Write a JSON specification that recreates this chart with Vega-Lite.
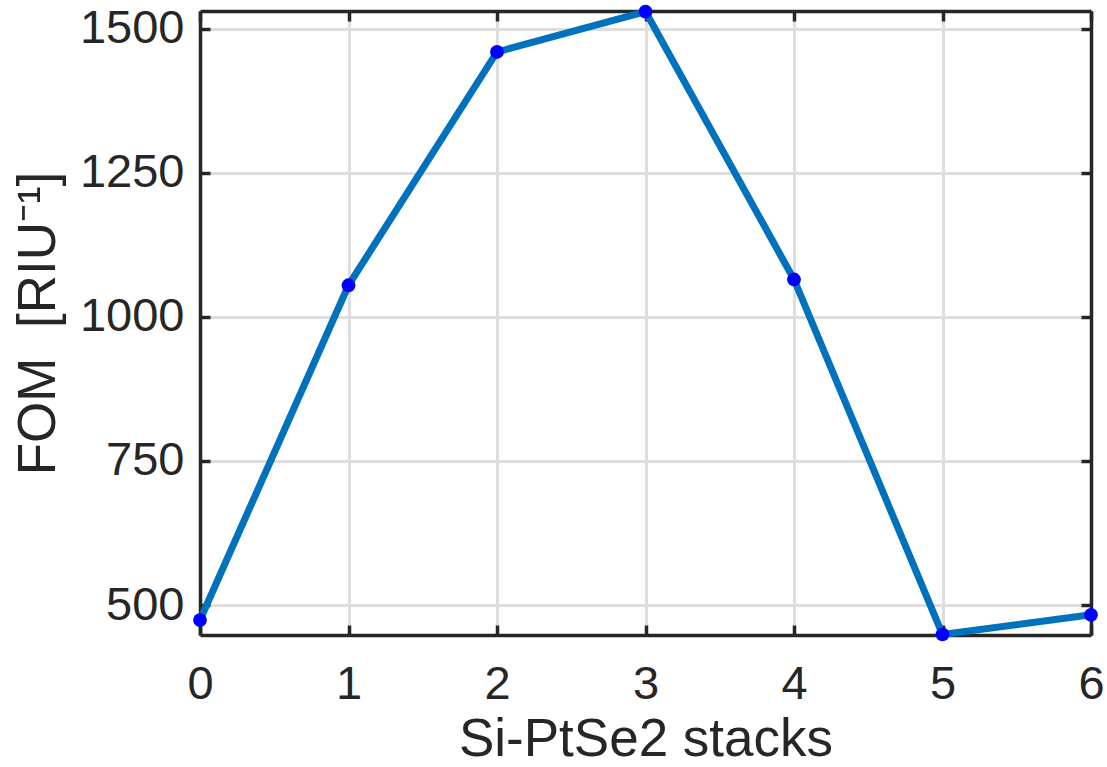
{
  "$schema": "https://vega.github.io/schema/vega-lite/v6.json",
  "width": 891,
  "height": 624,
  "autosize": {"type": "none"},
  "padding": {"left": 200, "top": 11, "right": 16, "bottom": 132},
  "background": "white",
  "config": {
    "view": {"stroke": null},
    "font": "Liberation Sans",
    "axis": {
      "domainColor": "#262626",
      "domainWidth": 3.5,
      "tickColor": "#262626",
      "tickWidth": 3.5,
      "tickSize": -10,
      "labelColor": "#262626",
      "labelFont": "Liberation Sans",
      "labelFontSize": 47,
      "labelFlush": false,
      "titleColor": "#262626",
      "titleFont": "Liberation Sans",
      "titleFontSize": 53,
      "titleFontWeight": "normal",
      "gridColor": "#dedede",
      "gridWidth": 3
    }
  },
  "data": {
    "values": [
      {"stacks": 0, "FOM": 474},
      {"stacks": 1, "FOM": 1055},
      {"stacks": 2, "FOM": 1460},
      {"stacks": 3, "FOM": 1530},
      {"stacks": 4, "FOM": 1065},
      {"stacks": 5, "FOM": 449},
      {"stacks": 6, "FOM": 483}
    ]
  },
  "resolve": {"axis": {"x": "independent", "y": "independent"}},
  "layer": [
    {
      "mark": {"type": "line", "color": "#0072BD", "strokeWidth": 7},
      "encoding": {
        "x": {
          "field": "stacks",
          "type": "quantitative",
          "scale": {"domain": [0, 6], "nice": false, "zero": false},
          "axis": {
            "orient": "bottom",
            "values": [0, 1, 2, 3, 4, 5, 6],
            "format": "d",
            "labelPadding": 36,
            "title": "Si-PtSe2 stacks",
            "titlePadding": 6,
            "grid": true
          }
        },
        "y": {
          "field": "FOM",
          "type": "quantitative",
          "scale": {"domain": [448, 1531], "nice": false, "zero": false},
          "axis": {
            "orient": "left",
            "values": [500, 750, 1000, 1250, 1500],
            "format": "d",
            "labelPadding": 26,
            "title": "FOM \u00a0[RIU⁻¹]",
            "titlePadding": 14,
            "grid": true
          }
        }
      }
    },
    {
      "mark": {"type": "point", "filled": true, "color": "#0000FF", "size": 190, "opacity": 1},
      "encoding": {
        "x": {
          "field": "stacks",
          "type": "quantitative",
          "axis": {
            "orient": "top",
            "values": [0, 1, 2, 3, 4, 5, 6],
            "labels": false,
            "title": null,
            "grid": false
          }
        },
        "y": {
          "field": "FOM",
          "type": "quantitative",
          "axis": {
            "orient": "right",
            "values": [500, 750, 1000, 1250, 1500],
            "labels": false,
            "title": null,
            "grid": false
          }
        }
      }
    }
  ]
}
